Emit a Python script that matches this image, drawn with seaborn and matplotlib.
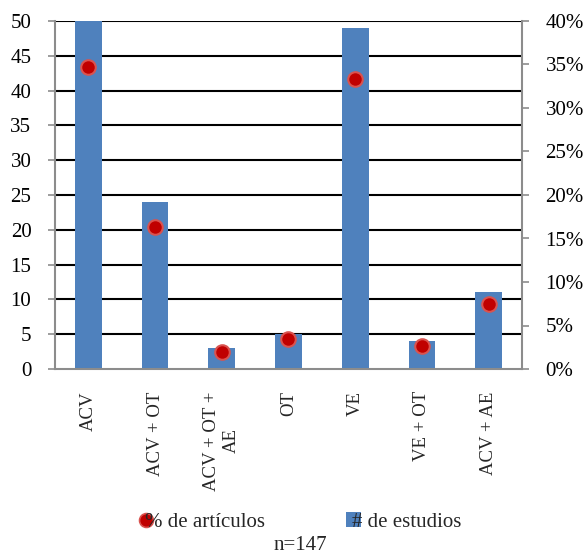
import matplotlib
matplotlib.use("Agg")
import matplotlib.pyplot as plt
import seaborn as sns
import pandas as pd
from matplotlib.lines import Line2D
from matplotlib.patches import Patch

categorias = ["ACV", "ACV + OT", "ACV + OT +\nAE", "OT", "VE", "VE + OT", "ACV + AE"]
n_estudios = [50, 24, 3, 5, 49, 4, 11]
pct_articulos = [34.7, 16.3, 2.0, 3.4, 33.3, 2.7, 7.5]
ticks_izq = [0, 5, 10, 15, 20, 25, 30, 35, 40, 45, 50]
ticks_der = [0, 5, 10, 15, 20, 25, 30, 35, 40]

df = pd.DataFrame({"cat": categorias, "n": n_estudios, "pct": pct_articulos})

sns.set_theme(style="white")
plt.rcParams["font.family"] = ["Liberation Serif", "DejaVu Serif"]

azul = "#4F81BD"
rojo = "#C00000"
gris = "#8C8C8C"

fig = plt.figure(figsize=(5.84, 5.55), dpi=100)
ax = fig.add_axes([55 / 584, 1 - 369 / 555, 467 / 584, 348 / 555])

sns.barplot(data=df, x="cat", y="n", color=azul, width=0.4, saturation=1,
            linewidth=0, edgecolor="none", ax=ax, zorder=2)
ax.set_ylim(0, 50)
ax.set_yticks(ticks_izq)
ax.set_xlim(-0.5, len(categorias) - 0.5)
for v in ticks_izq[1:]:
    ax.axhline(v, color="black", lw=1.5, zorder=1)

ax2 = ax.twinx()
sns.scatterplot(data=df, x="cat", y="pct", ax=ax2, s=110, color=rojo,
                edgecolor="#D9534F", linewidth=1.5, zorder=5)
ax2.set_ylim(0, 40)
ax2.set_yticks(ticks_der)
ax2.set_yticklabels([f"{t}%" for t in ticks_der])

for a in (ax, ax2):
    a.set_xlabel("")
    a.set_ylabel("")
    a.tick_params(axis="y", labelsize=15, labelcolor="black", color=gris,
                  length=5, width=1.2, pad=12)
    for s in a.spines.values():
        s.set_visible(False)

ax.spines["left"].set_visible(True)
ax.spines["bottom"].set_visible(True)
ax2.spines["right"].set_visible(True)
for s in (ax.spines["left"], ax.spines["bottom"], ax2.spines["right"]):
    s.set_color(gris)
    s.set_linewidth(1.5)

ax.tick_params(axis="x", labelsize=13.5, length=0, pad=16)
ax.set_xticks(range(len(categorias)))
ax.set_xticklabels(categorias, rotation=90, multialignment="center")

handles = [
    Line2D([], [], marker="o", linestyle="none", markersize=10,
           markerfacecolor=rojo, markeredgecolor="#D9534F", markeredgewidth=1.2),
    Patch(facecolor=azul, edgecolor="none"),
]
fig.legend(handles, ["% de artículos", "# de estudios"], loc="center",
           bbox_to_anchor=(300 / 584, 1 - 522 / 555), ncol=2, frameon=False,
           fontsize=15, handlelength=0.7, handleheight=0.7,
           handletextpad=-0.4, columnspacing=3.9)
fig.text(300 / 584, 1 - 545 / 555, "n=147", ha="center", va="center", fontsize=15)

fig.savefig("out.png", dpi=100)
